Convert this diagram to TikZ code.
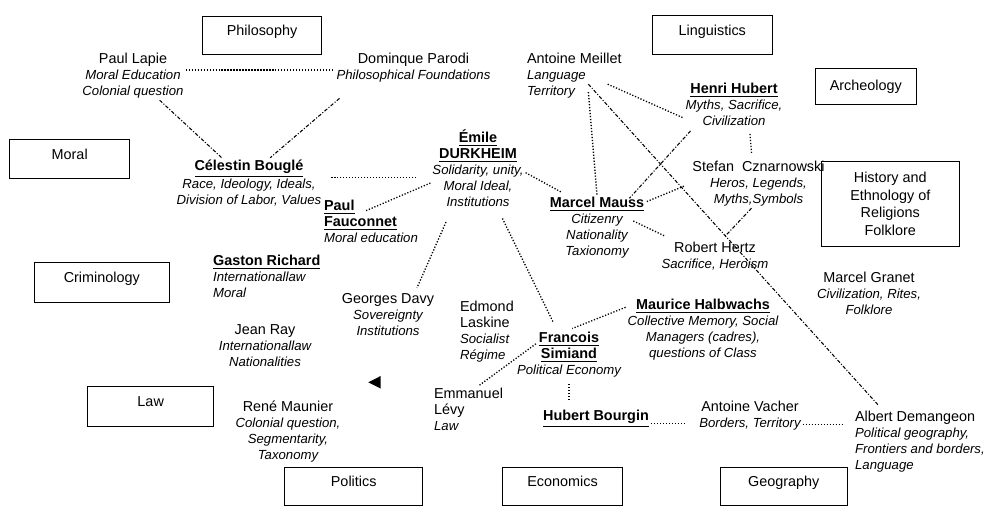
\documentclass[tikz,border=0pt]{standalone}
\usepackage{fontspec}
\setmainfont{Liberation Sans}
\newcommand{\key}[1]{\textbf{\underline{#1}}}
\newcommand{\tp}{\fontsize{7.5}{9.1}\selectfont\itshape}
\tikzset{
  area/.style={draw, line width=0.6pt, inner sep=0pt, align=center},
  lifted/.style={text height=1.5ex, text depth=1.5ex},
  who/.style={align=center, inner sep=1pt},
  whol/.style={align=left, inner sep=1pt, anchor=west},
  dotln/.style={line width=0.75pt, dash pattern=on 0.7pt off 1pt},
  dashdot/.style={line width=0.6pt, dash pattern=on 2pt off 1pt on 0.6pt off 1pt}
}
\begin{document}
\begin{tikzpicture}[x=0.02cm, y=-0.02cm, font=\fontsize{8.2}{9.1}\selectfont]
\useasboundingbox (0,0) rectangle (988,521);

\node[area, lifted, minimum width=2.38cm, minimum height=0.76cm] (philo) at (262,35.5) {Philosophy};
\node[area, lifted, minimum width=2.40cm, minimum height=0.77cm] (ling) at (712.3,35) {Linguistics};
\node[area, minimum width=2.03cm, minimum height=0.71cm] (arch) at (865.8,86.7) {Archeology};
\node[area, lifted, minimum width=2.39cm, minimum height=0.77cm] (moral) at (69.7,159.2) {Moral};
\node[area, minimum width=2.75cm, minimum height=1.71cm, font=\fontsize{8.2}{10.1}\selectfont] (hist) at (890.3,203.8) {History and\\Ethnology of\\Religions\\Folklore};
\node[area, lifted, minimum width=2.70cm, minimum height=0.80cm] (crim) at (101.8,282.3) {Criminology};
\node[area, lifted, minimum width=2.53cm, minimum height=0.80cm] (law) at (150.7,406.7) {Law};
\node[area, lifted, minimum width=2.75cm, minimum height=0.77cm] (pol) at (353.7,486.7) {Politics};
\node[area, lifted, minimum width=2.39cm, minimum height=0.77cm] (econ) at (562.5,486.7) {Economics};
\node[area, lifted, minimum width=2.55cm, minimum height=0.77cm] (geo) at (783.8,486.7) {Geography};

\node[who] (lapie) at (133,75.5) {Paul Lapie\\\tp Moral Education\\\tp Colonial question};
\node[who] (parodi) at (413.5,67.7) {Dominque Parodi\\\tp Philosophical Foundations};
\node[whol] (meillet) at (525,75.5) {Antoine Meillet\\\tp Language\\\tp Territory};
\node[who] (hubert) at (734,104.5) {\key{Henri Hubert}\\\tp Myths, Sacrifice,\\\tp Civilization};
\node[who] (stefan) at (758.5,183.5) {Stefan~ Cznarnowski\\\tp Heros, Legends,\\\tp Myths,Symbols};
\node[who] (hertz) at (715,256.5) {Robert Hertz\\\tp Sacrifice, Heroism};
\node[who] (granet) at (869,293.5) {Marcel Granet\\\tp Civilization, Rites,\\\tp Folklore};
\node[who] (halbwachs) at (703,329.5) {\key{Maurice Halbwachs}\\\tp Collective Memory, Social\\\tp Managers (cadres),\\\tp questions of Class};
\node[who] (simiand) at (569,354.5) {\key{Francois}\\\key{Simiand}\\\tp Political Economy};
\node[who] (bourgin) at (596,419) {\key{Hubert Bourgin}};
\node[who] (vacher) at (750,416) {Antoine Vacher\\\tp Borders, Territory};
\node[whol] (demangeon) at (853,441.5) {Albert Demangeon\\\tp Political geography,\\\tp Frontiers and borders,\\\tp Language};
\node[who] (durkheim) at (478,168.5) {\key{Émile}\\\key{DURKHEIM}\\\tp Solidarity, unity,\\\tp Moral Ideal,\\\tp Institutions};
\node[who] (mauss) at (597,228) {\key{Marcel Mauss}\\\tp Citizenry\\\tp Nationality\\\tp Taxionomy};
\node[who] (bougle) at (249,183) {\key{Célestin Bouglé}\\\tp Race, Ideology, Ideals,\\\tp Division of Labor, Values};
\node[whol] (fauconnet) at (322,221.5) {\key{Paul}\\\key{Fauconnet}\\\tp Moral education};
\node[whol] (richard) at (211,276.5) {\key{Gaston Richard}\\\tp Internationallaw\\\tp Moral};
\node[who] (jeanray) at (265,346) {Jean Ray\\\tp Internationallaw\\\tp Nationalities};
\node[who] (maunier) at (288,431.5) {René Maunier\\\tp Colonial question,\\\tp Segmentarity,\\\tp Taxonomy};
\node[who] (davy) at (388,315) {Georges Davy\\\tp Sovereignty\\\tp Institutions};
\node[whol] (laskine) at (458,331.5) {Edmond\\Laskine\\\tp Socialist\\\tp Régime};
\node[whol] (levy) at (432,409.5) {Emmanuel\\Lévy\\\tp Law};

\draw[dotln] (lapie.6) -- (lapie.6 -| parodi.west);
\draw[dashdot] (lapie) -- (bougle);
\draw[dashdot] ([shift={(5,14)}]parodi.south west) -- (bougle.50);
\draw[dotln, shorten <=4.5pt, shorten >=7.4pt] (bougle.4) -- (bougle.4 -| durkheim.west);
\draw[dotln] (durkheim.197) -- ([shift={(43,13)}]fauconnet.north west);
\draw[dotln] (durkheim.-5) -- ([shift={(14,-3)}]mauss.north west);
\draw[dotln] ([shift={(-32,13)}]durkheim.south) -- ([shift={(29,-4)}]davy.north);
\draw[dotln, shorten <=6pt, shorten >=5pt] (durkheim) -- (simiand);
\draw[dotln] ([shift={(14,-8)}]meillet.south) -- (mauss.north);
\draw[dotln] ([shift={(-16,-16)}]meillet.south east) -- (hubert.195);
\draw[dashdot] ([shift={(14,-16)}]meillet.south) -- ([shift={(25,-4)}]demangeon.north west);
\draw[dotln] ([shift={(16,6)}]hubert.south) -- ([shift={(-7,-6)}]stefan.north);
\draw[dashdot] ([shift={(7,3)}]hubert.south west) -- ([shift={(-17,3)}]mauss.north east);
\draw[dotln, shorten <=4pt] (stefan.west) -- (mauss.28);
\draw[dashdot] ([shift={(-7,0)}]stefan.south) -- ([shift={(10,-4)}]hertz.north);
\draw[dotln] ([shift={(-13,-7)}]mauss.east) -- ([shift={(6,-4)}]hertz.north west);
\draw[dotln, shorten >=2pt] (halbwachs.164) -- (simiand.north);
\draw[dotln] ([shift={(21,14)}]simiand.north west) -- ([shift={(11,-1)}]levy.north);
\draw[dotln, shorten <=2.8pt, shorten >=5pt] (simiand.south) -- (simiand.south |- bourgin.north);
\draw[dotln, shorten >=6.6pt] (bourgin.-5) -- (bourgin.-5 -| vacher.west);
\draw[dotln, shorten >=5pt] (vacher.-9) -- (vacher.-9 -| demangeon.west);
\fill (368.3,382.3) -- (380.7,376) -- (380.7,388.6) -- cycle;
\end{tikzpicture}
\end{document}
